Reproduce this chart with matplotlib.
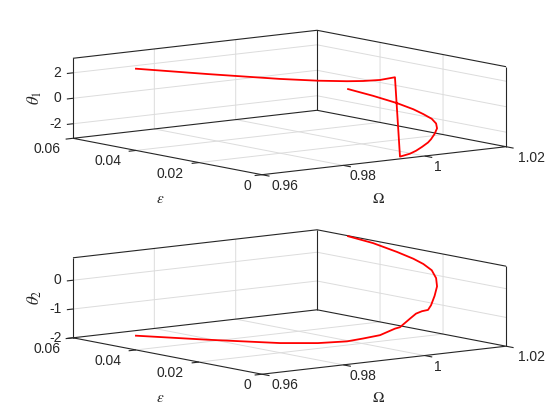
import matplotlib
matplotlib.use('Agg')
import matplotlib.pyplot as plt
from mpl_toolkits.mplot3d import proj3d

plt.rcParams['font.family'] = ['Liberation Sans', 'DejaVu Sans']
plt.rcParams['mathtext.fontset'] = 'stix'

# curve
omega = [0.97116, 0.97786, 0.98447, 0.98798, 0.99061, 0.99214, 0.99376, 0.99506, 0.9956,
         0.99848, 1.00043, 1.00259, 1.005, 1.00667, 1.0094, 1.01233, 1.01442, 1.01567,
         1.01639, 1.0172, 1.01828, 1.0189, 1.01963]
eps = [0.05442, 0.0402, 0.02586, 0.01836, 0.01254, 0.00942, 0.00612, 0.00306, 0.00216,
       0.0027, 0.0033, 0.0042, 0.0054, 0.0066, 0.009, 0.012, 0.015, 0.018,
       0.0216, 0.0258, 0.0324, 0.0408, 0.04968]
theta1 = [2.18, 2.19, 2.25, 2.34, 2.48, 2.59, 2.77, 3.08, -3.13,
          -3.03, -2.90, -2.72, -2.52, -2.38, -2.18, -1.99, -1.83, -1.65,
          -1.48, -1.33, -1.20, -1.05, -0.97]
theta2 = [-1.99, -1.94, -1.86, -1.76, -1.62, -1.48, -1.32, -1.05, -0.99,
          -0.75, -0.62, -0.59, -0.61, -0.50, -0.27, -0.05, 0.14, 0.33,
          0.46, 0.54, 0.62, 0.74, 0.78]

omega_ticks = [0.96, 0.98, 1.0, 1.02]
omega_labels = ['0.96', '0.98', '1', '1.02']
eps_ticks = [0.06, 0.04, 0.02, 0.0]
eps_labels = ['0.06', '0.04', '0.02', '0']
z1_ticks = [-2, 0, 2]
z2_ticks = [-2, -1, 0]
z1_lim = (-3.1416, 3.1416)
z2_lim = (-2.0, 0.78)

W, H = 560, 420
S = 539
EDGE = '#262626'
GRID = '#dcdcdc'


def panel(theta, zticks, zlim, cy, ylabel, ylab_y, lab_y):
    ax = fig.add_axes([(289.5 - S * 0.5135) / W, 1 - (cy + S * 0.5135) / H, S / W, S / H],
                      projection='3d', proj_type='ortho')
    ax.view_init(elev=8.55, azim=-127.66)
    ax.set_box_aspect((308.3, 309.3, 80.9), zoom=0.8)
    ax.set_xlim(0.96, 1.02, view_margin=0)
    ax.set_ylim(0, 0.06, view_margin=0)
    ax.set_zlim(zlim[0], zlim[1], view_margin=0)
    ax.set_axis_off()
    ax.computed_zorder = False
    ax.patch.set_alpha(0)

    x0, x1 = omega_ticks[0], omega_ticks[-1]
    y0, y1 = eps_ticks[-1], eps_ticks[0]
    z0, z1 = zlim

    def seg(xs, ys, zs, c, lw, zo):
        ax.plot(xs, ys, zs, color=c, lw=lw, zorder=zo, clip_on=False, solid_capstyle='butt')

    # grid
    for t in omega_ticks[1:-1]:
        seg([t, t, t], [y0, y1, y1], [z0, z0, z1], GRID, 0.7, 1)
    for t in eps_ticks[1:-1]:
        seg([x0, x1, x1], [t, t, t], [z0, z0, z1], GRID, 0.7, 1)
    for t in zticks:
        if z0 < t < z1:
            seg([x0, x1, x1], [y1, y1, y0], [t, t, t], GRID, 0.7, 1)

    # box
    seg([x0, x0, x1, x1, x0], [y1, y0, y0, y1, y1], [z0] * 5, EDGE, 0.8, 2)
    seg([x0, x1, x1], [y1, y1, y0], [z1, z1, z1], EDGE, 0.8, 2)
    seg([x0, x0], [y1, y1], [z0, z1], EDGE, 0.8, 2)
    seg([x1, x1], [y1, y1], [z0, z1], EDGE, 0.8, 2)
    seg([x1, x1], [y0, y0], [z0, z1], EDGE, 0.8, 2)

    # tick marks
    for t in omega_ticks:
        seg([t, t], [y0, y0 - 0.0024], [z0, z0], EDGE, 0.8, 2)
    for t in eps_ticks:
        seg([x0, x0 - 0.0018], [t, t], [z0, z0], EDGE, 0.8, 2)
    for t in zticks:
        seg([x0, x0 - 0.0015], [y1, y1], [t, t], EDGE, 0.8, 2)

    ax.plot(omega, eps, theta, color='red', lw=1.3, zorder=3, clip_on=False)

    # tick labels, placed in pixels from the tick
    M = ax.get_proj()

    def lab(x, y, z, s, dx, dy, ha='center'):
        px, py, _ = proj3d.proj_transform(x, y, z, M)
        ax.annotate(s, (px, py), xytext=(dx, dy), textcoords='offset pixels', ha=ha, va='center',
                    fontsize=10, color=EDGE, annotation_clip=False)

    for t, s, dx in zip(omega_ticks, omega_labels, [22.5, 20, 13.4, 25.7]):
        lab(t, y0, z0, s, dx, -11)
    for t, s, dx in zip(eps_ticks, eps_labels, [-26, -28, -29, -15]):
        lab(x0, t, z0, s, dx, -11)
    for t in zticks:
        lab(x0, y1, t, str(t), -11.5, 0, ha='right')

    fig.text(35 / W, 1 - ylab_y / H, ylabel, rotation=90, ha='center', va='center', fontsize=12, color=EDGE)
    fig.text(160 / W, 1 - lab_y / H, r'$\epsilon$', ha='center', va='center', fontsize=11, color=EDGE)
    fig.text(379 / W, 1 - lab_y / H, r'$\Omega$', ha='center', va='center', fontsize=11, color=EDGE)


fig = plt.figure(figsize=(5.6, 4.2), dpi=100)
panel(theta1, z1_ticks, z1_lim, 102.5, r'$\theta_1$', 98, 199)
panel(theta2, z2_ticks, z2_lim, 302, r'$\theta_2$', 297, 398)
fig.savefig('out.png', dpi=100)
